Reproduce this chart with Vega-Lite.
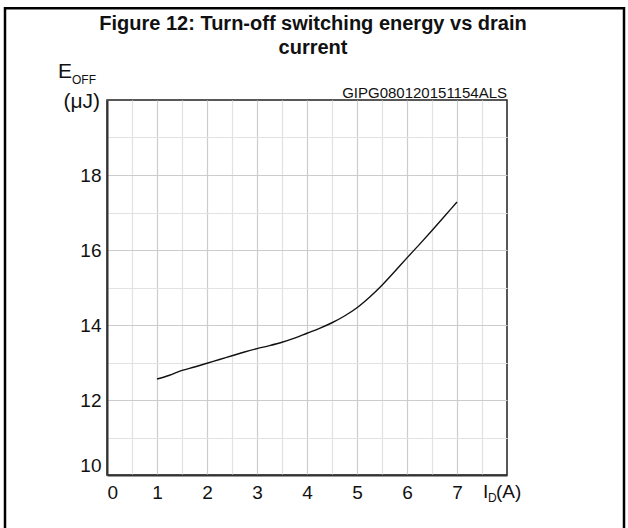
{
  "$schema": "https://vega.github.io/schema/vega-lite/v6.json",
  "width": 400,
  "height": 375,
  "autosize": "none",
  "padding": {"left": 107, "top": 100, "right": 121, "bottom": 53},
  "background": "white",
  "config": {
    "font": "Liberation Sans",
    "view": {"stroke": "#222222", "strokeWidth": 1.5}
  },
  "title": {
    "text": ["Figure 12: Turn-off switching energy vs drain", "current"],
    "font": "Liberation Sans",
    "fontSize": 20,
    "fontWeight": "bold",
    "color": "#111111",
    "frame": "group",
    "anchor": "middle",
    "dx": 6,
    "offset": -51,
    "lineHeight": 24
  },
  "resolve": {"axis": {"x": "independent", "y": "independent"}},
  "layer": [
    {
      "data": {"values": [{}]},
      "mark": {"type": "rect", "fill": null, "fillOpacity": 0, "stroke": "#000000", "strokeWidth": 2.5, "clip": false},
      "encoding": {
        "x": {"datum": -2.04, "type": "quantitative", "scale": {"domain": [0, 8], "nice": false, "zero": false},
          "axis": {"orient": "top", "values": [0.5, 1.5, 2.5, 3.5, 4.5, 5.5, 6.5, 7.5], "labels": false, "ticks": false, "domain": false, "title": null, "grid": true, "gridColor": "#e2e2e2", "gridWidth": 1.2}},
        "x2": {"datum": 10.34},
        "y": {"datum": 22.45, "type": "quantitative", "scale": {"domain": [10, 20], "nice": false, "zero": false},
          "axis": {"orient": "right", "values": [11, 13, 15, 17, 19], "labels": false, "ticks": false, "domain": false, "title": null, "grid": true, "gridColor": "#e2e2e2", "gridWidth": 1.2}},
        "y2": {"datum": 8.2}
      }
    },
    {
      "data": {"values": [
        {"I_D": 1.0, "E_off": 12.56},
        {"I_D": 1.25, "E_off": 12.66},
        {"I_D": 1.5, "E_off": 12.79},
        {"I_D": 1.75, "E_off": 12.88},
        {"I_D": 2.0, "E_off": 12.98},
        {"I_D": 2.25, "E_off": 13.08},
        {"I_D": 2.5, "E_off": 13.18},
        {"I_D": 2.75, "E_off": 13.28},
        {"I_D": 3.0, "E_off": 13.37},
        {"I_D": 3.25, "E_off": 13.45},
        {"I_D": 3.5, "E_off": 13.54},
        {"I_D": 3.75, "E_off": 13.65},
        {"I_D": 4.0, "E_off": 13.78},
        {"I_D": 4.25, "E_off": 13.91},
        {"I_D": 4.5, "E_off": 14.06},
        {"I_D": 4.75, "E_off": 14.24},
        {"I_D": 5.0, "E_off": 14.46},
        {"I_D": 5.25, "E_off": 14.74},
        {"I_D": 5.5, "E_off": 15.06},
        {"I_D": 5.75, "E_off": 15.42},
        {"I_D": 6.0, "E_off": 15.79},
        {"I_D": 6.25, "E_off": 16.15},
        {"I_D": 6.5, "E_off": 16.52},
        {"I_D": 6.75, "E_off": 16.9},
        {"I_D": 7.0, "E_off": 17.28}
      ]},
      "mark": {"type": "line", "color": "#111111", "strokeWidth": 1.4, "interpolate": "monotone"},
      "encoding": {
        "x": {"field": "I_D", "type": "quantitative", "scale": {"domain": [0, 8], "nice": false, "zero": false},
          "axis": {"orient": "bottom", "values": [0, 1, 2, 3, 4, 5, 6, 7], "ticks": false, "domain": true, "domainColor": "#333333", "domainWidth": 2, "title": null, "grid": true, "gridColor": "#cccccc", "gridWidth": 1.2, "labelFontSize": 19, "labelColor": "#111111", "labelPadding": 8, "labelFont": "Liberation Sans"}},
        "y": {"field": "E_off", "type": "quantitative", "scale": {"domain": [10, 20], "nice": false, "zero": false},
          "axis": {"orient": "left", "values": [10, 12, 14, 16, 18], "ticks": false, "domain": true, "domainColor": "#333333", "domainWidth": 2, "title": null, "grid": true, "gridColor": "#cccccc", "gridWidth": 1.2, "labelFontSize": 19, "labelColor": "#111111", "labelPadding": 6, "labelFlush": true, "labelFont": "Liberation Sans"}}
      }
    },
    {
      "data": {"values": [{}]},
      "mark": {"type": "text", "text": "E", "fontSize": 21, "align": "left", "baseline": "alphabetic", "color": "#111111"},
      "encoding": {
        "x": {"datum": -0.98, "type": "quantitative", "scale": {"domain": [0, 8], "nice": false, "zero": false}, "axis": null},
        "y": {"datum": 20.59, "type": "quantitative", "scale": {"domain": [10, 20], "nice": false, "zero": false}, "axis": null}
      }
    },
    {
      "data": {"values": [{}]},
      "mark": {"type": "text", "text": "OFF", "fontSize": 12, "align": "left", "baseline": "alphabetic", "color": "#111111"},
      "encoding": {
        "x": {"datum": -0.7, "type": "quantitative", "scale": {"domain": [0, 8], "nice": false, "zero": false}, "axis": null},
        "y": {"datum": 20.43, "type": "quantitative", "scale": {"domain": [10, 20], "nice": false, "zero": false}, "axis": null}
      }
    },
    {
      "data": {"values": [{}]},
      "mark": {"type": "text", "text": "(μJ)", "fontSize": 21, "align": "right", "baseline": "alphabetic", "color": "#111111"},
      "encoding": {
        "x": {"datum": -0.14, "type": "quantitative", "scale": {"domain": [0, 8], "nice": false, "zero": false}, "axis": null},
        "y": {"datum": 19.8, "type": "quantitative", "scale": {"domain": [10, 20], "nice": false, "zero": false}, "axis": null}
      }
    },
    {
      "data": {"values": [{}]},
      "mark": {"type": "text", "text": "GIPG080120151154ALS", "fontSize": 15, "align": "right", "baseline": "alphabetic", "color": "#111111"},
      "encoding": {
        "x": {"datum": 8.0, "type": "quantitative", "scale": {"domain": [0, 8], "nice": false, "zero": false}, "axis": null},
        "y": {"datum": 20.06, "type": "quantitative", "scale": {"domain": [10, 20], "nice": false, "zero": false}, "axis": null}
      }
    },
    {
      "data": {"values": [{}]},
      "mark": {"type": "text", "text": "I", "fontSize": 19, "align": "left", "baseline": "alphabetic", "color": "#111111"},
      "encoding": {
        "x": {"datum": 7.52, "type": "quantitative", "scale": {"domain": [0, 8], "nice": false, "zero": false}, "axis": null},
        "y": {"datum": 9.39, "type": "quantitative", "scale": {"domain": [10, 20], "nice": false, "zero": false}, "axis": null}
      }
    },
    {
      "data": {"values": [{}]},
      "mark": {"type": "text", "text": "D", "fontSize": 12, "align": "left", "baseline": "alphabetic", "color": "#111111"},
      "encoding": {
        "x": {"datum": 7.62, "type": "quantitative", "scale": {"domain": [0, 8], "nice": false, "zero": false}, "axis": null},
        "y": {"datum": 9.28, "type": "quantitative", "scale": {"domain": [10, 20], "nice": false, "zero": false}, "axis": null}
      }
    },
    {
      "data": {"values": [{}]},
      "mark": {"type": "text", "text": "(A)", "fontSize": 19, "align": "left", "baseline": "alphabetic", "color": "#111111"},
      "encoding": {
        "x": {"datum": 7.78, "type": "quantitative", "scale": {"domain": [0, 8], "nice": false, "zero": false}, "axis": null},
        "y": {"datum": 9.39, "type": "quantitative", "scale": {"domain": [10, 20], "nice": false, "zero": false}, "axis": null}
      }
    }
  ]
}
